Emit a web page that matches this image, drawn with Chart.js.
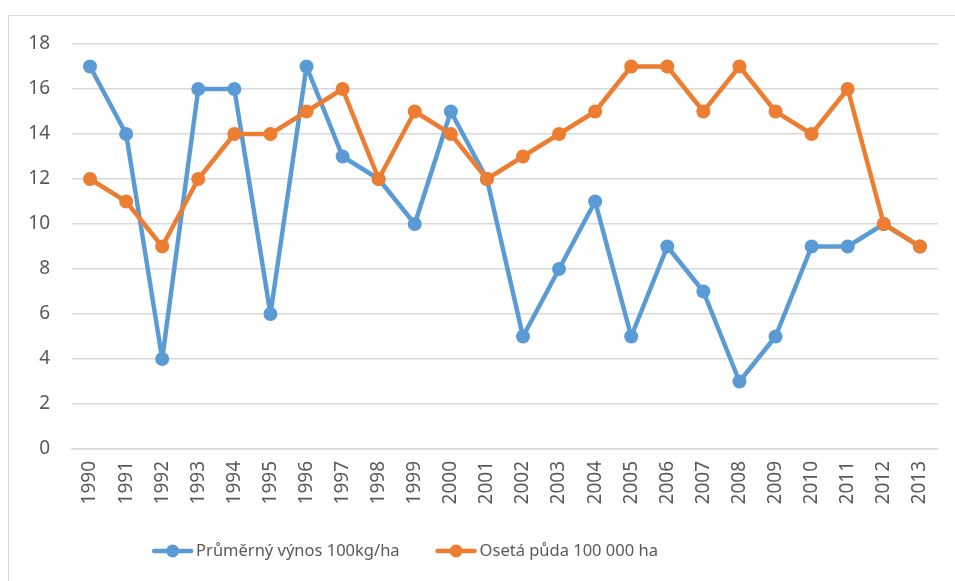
<!DOCTYPE html>
<html>
<head>
<meta charset="utf-8">
<script src="https://cdn.jsdelivr.net/npm/chart.js@4"></script>
<style>
  html, body { margin: 0; padding: 0; background: #fff; }
  #wrap { position: relative; width: 955px; height: 581px; overflow: hidden; }
  #frame { position: absolute; left: 8px; top: 15px; width: 960px; height: 600px; border: 1px solid #d9d9d9; box-sizing: border-box; }
  #chart { position: absolute; left: 0; top: 0; }
</style>
</head>
<body>
<div id="wrap">
  <div id="frame"></div>
  <canvas id="chart" width="955" height="581"></canvas>
</div>
<script>
// data
const years = ['1990','1991','1992','1993','1994','1995','1996','1997','1998','1999','2000','2001',
               '2002','2003','2004','2005','2006','2007','2008','2009','2010','2011','2012','2013'];
const yieldValues = [17, 14, 4, 16, 16, 6, 17, 13, 12, 10, 15, 12, 5, 8, 11, 5, 9, 7, 3, 5, 9, 9, 10, 9];
const areaValues  = [12, 11, 9, 12, 14, 14, 15, 16, 12, 15, 14, 12, 13, 14, 15, 17, 17, 15, 17, 15, 14, 16, 10, 9];
const seriesNames = ['Průměrný výnos 100kg/ha', 'Osetá půda 100 000 ha'];
const yTicks = [0, 2, 4, 6, 8, 10, 12, 14, 16, 18];

const BLUE = '#5B9BD5';
const ORANGE = '#ED7D31';
const TEXT = '#595959';
const GRID = '#d9d9d9';
const FONT = "'Noto Sans', 'DejaVu Sans', sans-serif";

// legend drawn like Excel: line with a dot, centred under the chart
const excelLegend = {
    id: 'excelLegend',
    afterDraw(chart) {
        const ctx = chart.ctx;
        const y = 551;
        ctx.save();
        ctx.font = '16.5px ' + FONT;
        ctx.textBaseline = 'middle';
        const marker = 41, gap = 3, spacing = 36;
        const items = chart.data.datasets.map(ds => ({
            label: ds.label, color: ds.borderColor, w: marker + gap + ctx.measureText(ds.label).width
        }));
        let total = items.reduce((s, it) => s + it.w, 0) + spacing * (items.length - 1);
        let x = 405 - total / 2;
        items.forEach(it => {
            ctx.strokeStyle = it.color;
            ctx.lineWidth = 4.5;
            ctx.lineCap = 'round';
            ctx.beginPath();
            ctx.moveTo(x + 2, y);
            ctx.lineTo(x + marker - 2, y);
            ctx.stroke();
            ctx.fillStyle = it.color;
            ctx.beginPath();
            ctx.arc(x + marker / 2, y, 6.5, 0, Math.PI * 2);
            ctx.fill();
            ctx.fillStyle = TEXT;
            ctx.textAlign = 'left';
            ctx.fillText(it.label, x + marker + gap, y);
            x += it.w + spacing;
        });
        ctx.restore();
    }
};

new Chart(document.getElementById('chart'), {
    type: 'line',
    data: {
        labels: years,
        datasets: [
            {
                label: seriesNames[0],
                data: yieldValues,
                borderColor: BLUE,
                backgroundColor: BLUE,
                borderWidth: 4.5,
                borderJoinStyle: 'round',
                borderCapStyle: 'round',
                pointRadius: 7,
                pointBorderWidth: 0,
                tension: 0,
                order: 2
            },
            {
                label: seriesNames[1],
                data: areaValues,
                borderColor: ORANGE,
                backgroundColor: ORANGE,
                borderWidth: 4.5,
                borderJoinStyle: 'round',
                borderCapStyle: 'round',
                pointRadius: 7,
                pointBorderWidth: 0,
                tension: 0,
                order: 1
            }
        ]
    },
    options: {
        responsive: false,
        animation: false,
        devicePixelRatio: 1,
        layout: {
            padding: { left: 0, top: 44, right: 16, bottom: 62 }
        },
        plugins: {
            legend: { display: false },
            tooltip: { enabled: false }
        },
        scales: {
            x: {
                offset: true,
                grid: { display: false, drawTicks: false },
                border: { display: true, color: GRID, width: 1.5 },
                ticks: {
                    color: TEXT,
                    font: { family: FONT, size: 19 },
                    minRotation: 90,
                    maxRotation: 90,
                    padding: 12,
                    autoSkip: false
                },
                afterFit(scale) { scale.height = 70; }
            },
            y: {
                min: 0,
                max: 18,
                afterBuildTicks(scale) { scale.ticks = yTicks.map(v => ({ value: v })); },
                grid: { color: GRID, lineWidth: 1.5, drawTicks: false },
                border: { display: false },
                ticks: {
                    color: TEXT,
                    font: { family: FONT, size: 19 },
                    padding: 22
                },
                afterFit(scale) { scale.width = 72; }
            }
        }
    },
    plugins: [excelLegend]
});
</script>
</body>
</html>
